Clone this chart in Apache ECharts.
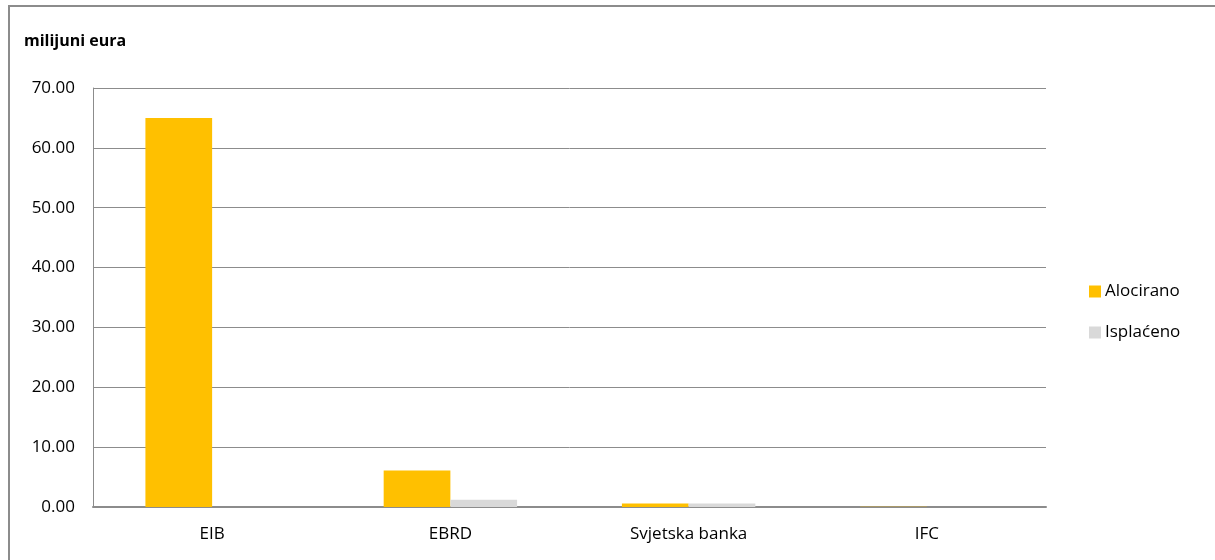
<!DOCTYPE html>
<html><head><meta charset="utf-8">
<script src="https://cdn.jsdelivr.net/npm/echarts@6/dist/echarts.min.js"></script>
<style>html,body{margin:0;padding:0;background:#fff}
#c{width:1215px;height:560px;}
#frame{position:absolute;left:8px;top:5px;width:1215px;height:600px;border:2px solid #8c8c8c;box-sizing:border-box;pointer-events:none}
</style></head>
<body><div id="c"></div><div id="frame"></div>
<script>
const categories = ['EIB', 'EBRD', 'Svjetska banka', 'IFC'];
const alocirano = [65.0, 6.1, 0.6, 0.05];
const isplaceno = [0, 1.2, 0.6, 0];
const yTicks = { min: 0, max: 70, interval: 10 };

const chart = echarts.init(document.getElementById('c'));
const font = 'Open Sans, Liberation Sans, sans-serif';
chart.setOption({
  animation: false,
  textStyle: { fontFamily: font },
  title: { text: 'milijuni eura', left: 19, top: 28, textStyle: { fontSize: 16, fontWeight: 'bold', color: '#000', fontFamily: font } },
  legend: {
    orient: 'vertical', left: 1084, top: 278, itemWidth: 12, itemHeight: 12, itemGap: 24, icon: 'rect',
    textStyle: { fontSize: 17, color: '#000', padding: [0, 0, 0, -1] },
    data: ['Alocirano', 'Isplaćeno']
  },
  grid: { left: 93, right: 169, top: 88, bottom: 53, containLabel: false },
  xAxis: {
    type: 'category', data: categories,
    axisLine: { lineStyle: { color: '#8c8c8c', width: 2 } },
    axisTick: { show: false },
    axisLabel: { fontSize: 17, color: '#000', margin: 19 }
  },
  yAxis: {
    type: 'value', min: yTicks.min, max: yTicks.max, interval: yTicks.interval,
    axisLine: { show: true, lineStyle: { color: '#8c8c8c', width: 1 } },
    axisTick: { show: false },
    splitLine: { lineStyle: { color: '#8c8c8c', width: 1 } },
    axisLabel: { fontSize: 17, color: '#000', margin: 18, formatter: v => v.toFixed(2) }
  },
  series: [
    { name: 'Alocirano', type: 'bar', data: alocirano, barGap: '0%', barCategoryGap: '44%', itemStyle: { color: '#ffc000' } },
    { name: 'Isplaćeno', type: 'bar', data: isplaceno, itemStyle: { color: '#d9d9d9' } }
  ]
});
</script></body></html>
